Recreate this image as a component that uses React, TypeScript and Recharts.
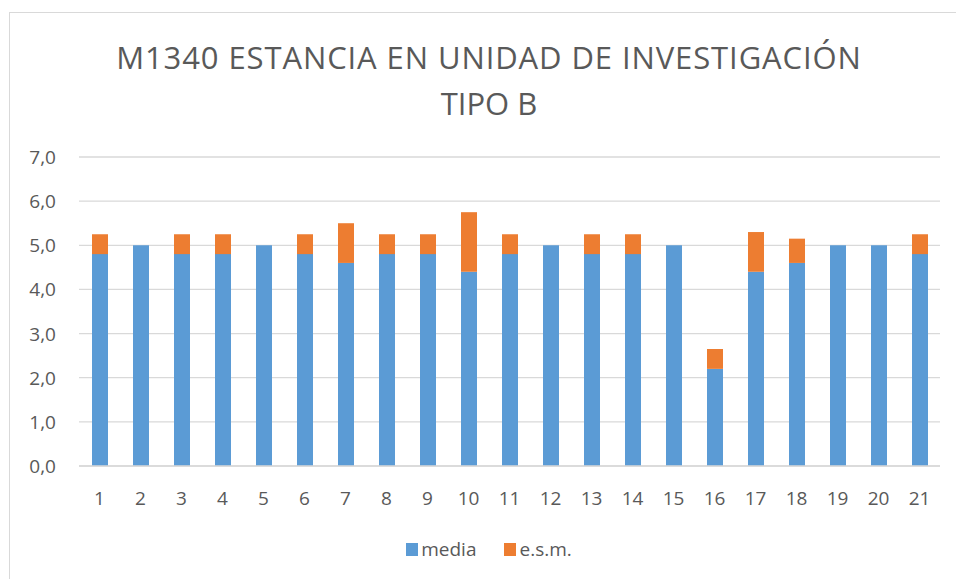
import { BarChart, Bar, XAxis, YAxis, CartesianGrid } from 'recharts';

const categories = ['1', '2', '3', '4', '5', '6', '7', '8', '9', '10', '11', '12', '13', '14', '15', '16', '17', '18', '19', '20', '21'];
const media = [4.8, 5.0, 4.8, 4.8, 5.0, 4.8, 4.6, 4.8, 4.8, 4.4, 4.8, 5.0, 4.8, 4.8, 5.0, 2.2, 4.4, 4.6, 5.0, 5.0, 4.8];
const esm = [0.45, 0, 0.45, 0.45, 0, 0.45, 0.9, 0.45, 0.45, 1.35, 0.45, 0, 0.45, 0.45, 0, 0.45, 0.9, 0.55, 0, 0, 0.45];
const yTicks = [0, 1, 2, 3, 4, 5, 6, 7];

const FONT = '"Open Sans", "Noto Sans", sans-serif';
const TEXT = '#595959';
const BLUE = '#5B9BD5';
const ORANGE = '#ED7D31';

const data = categories.map((c, i) => ({ name: c, media: media[i], esm: esm[i] }));

const fmt = (v: number) => v.toFixed(1).replace('.', ',');

function YTick(props: any) {
  const { y, payload } = props;
  return (
    <text x={56} y={y} textAnchor="end" dominantBaseline="central" fill={TEXT} fontSize={19} fontFamily={FONT}>
      {fmt(payload.value)}
    </text>
  );
}

function XTick(props: any) {
  const { x, payload } = props;
  return (
    <text x={x} y={498} textAnchor="middle" dominantBaseline="central" fill={TEXT} fontSize={19} fontFamily={FONT}>
      {payload.value}
    </text>
  );
}

const legendItems = [
  { label: 'media', color: BLUE },
  { label: 'e.s.m.', color: ORANGE },
];

export default function App() {
  return (
    <div style={{ position: 'absolute', left: 0, top: 0, width: 956, height: 579, background: '#fff', overflow: 'hidden' }}>
      <div
        style={{
          position: 'absolute',
          left: 9,
          top: 12,
          width: 960,
          height: 600,
          borderTop: '1.5px solid #d9d9d9',
          borderLeft: '1.5px solid #d9d9d9',
        }}
      />
      <div
        style={{
          position: 'absolute',
          left: 0,
          top: 34,
          width: 978,
          textAlign: 'center',
          fontFamily: FONT,
          fontSize: 31,
          lineHeight: '46px',
          color: TEXT,
        }}
      >
        <div style={{ letterSpacing: '0.9px' }}>M1340 ESTANCIA EN UNIDAD DE INVESTIGACIÓN</div>
        <div>TIPO B</div>
      </div>
      <div style={{ position: 'absolute', left: 0, top: 0 }}>
        <BarChart width={956} height={579} data={data} margin={{ top: 157, right: 16, bottom: 83, left: 0 }} barSize={16}>
          <CartesianGrid vertical={false} stroke="#d9d9d9" strokeWidth={1.3} />
          <XAxis dataKey="name" height={30} tick={<XTick />} tickLine={false} axisLine={{ stroke: '#d9d9d9', strokeWidth: 1.3 }} interval={0} />
          <YAxis width={79} domain={[0, 7]} ticks={yTicks} tick={<YTick />} tickLine={false} axisLine={false} />
          <Bar dataKey="media" name="media" stackId="a" fill={BLUE} isAnimationActive={false} />
          <Bar dataKey="esm" name="e.s.m." stackId="a" fill={ORANGE} isAnimationActive={false} />
        </BarChart>
      </div>
      <div
        style={{
          position: 'absolute',
          left: 0,
          top: 537,
          width: 978,
          display: 'flex',
          justifyContent: 'center',
          gap: 28,
          fontFamily: FONT,
          fontSize: 19,
          lineHeight: '24px',
          color: TEXT,
        }}
      >
        {legendItems.map((it) => (
          <div key={it.label} style={{ display: 'flex', alignItems: 'center' }}>
            <span style={{ display: 'inline-block', width: 12, height: 13, background: it.color, marginRight: 3 }} />
            <span>{it.label}</span>
          </div>
        ))}
      </div>
    </div>
  );
}
